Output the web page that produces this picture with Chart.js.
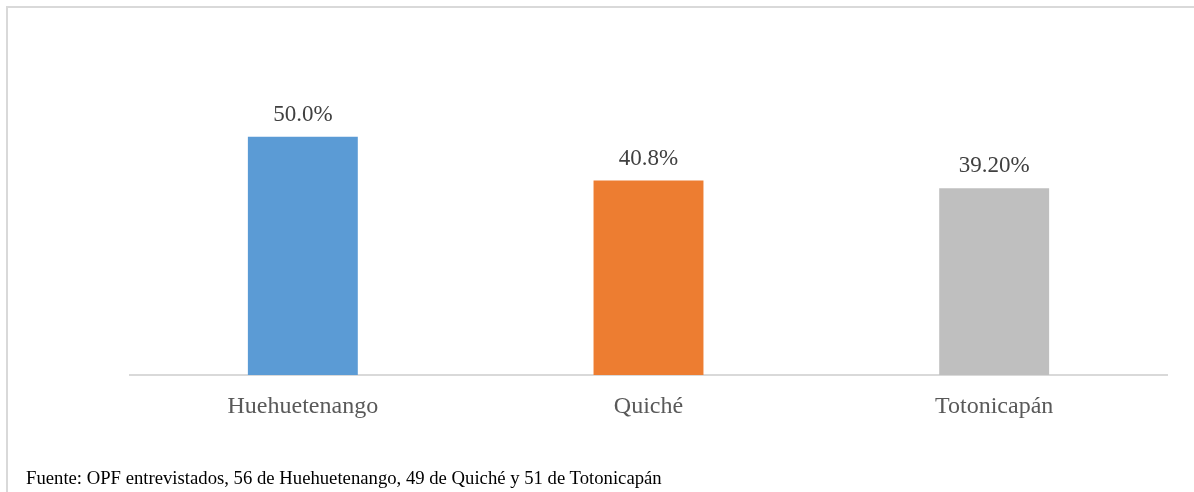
<!DOCTYPE html>
<html>
<head>
<meta charset="utf-8">
<script src="https://cdn.jsdelivr.net/npm/chart.js@4/dist/chart.umd.min.js"></script>
<style>
  html, body { margin: 0; padding: 0; background: #fff; }
  #wrap { position: relative; width: 1194px; height: 492px; overflow: hidden; }
  #frame { position: absolute; left: 6px; top: 6px; width: 1200px; height: 500px;
           border-top: 2px solid #d9d9d9; border-left: 2px solid #d9d9d9; box-sizing: border-box; }
  #chart { position: absolute; left: 0; top: 0; }
  #source { position: absolute; left: 26px; top: 467px; font-family: "Liberation Serif", "Times New Roman", serif;
            font-size: 18.7px; color: #000; white-space: nowrap; }
</style>
</head>
<body>
<div id="wrap">
  <div id="frame"></div>
  <canvas id="chart" width="1194" height="492"></canvas>
  <div id="source">Fuente: OPF entrevistados, 56 de Huehuetenango, 49 de Quiché y 51 de Totonicapán</div>
</div>
<script>
// Departments and share of interviewed OPF
const categories = ["Huehuetenango", "Quiché", "Totonicapán"];
const values = [50.0, 40.8, 39.2];
const valueLabels = ["50.0%", "40.8%", "39.20%"];
const barColors = ["#5B9BD5", "#ED7D31", "#BFBFBF"];

// Writes each bar's percentage above it
const valueLabelPlugin = {
  id: "valueLabels",
  afterDatasetsDraw(chart) {
    const ctx = chart.ctx;
    const meta = chart.getDatasetMeta(0);
    ctx.save();
    ctx.font = "23px 'Liberation Serif', 'Times New Roman', serif";
    ctx.fillStyle = "#404040";
    ctx.textAlign = "center";
    ctx.textBaseline = "middle";
    meta.data.forEach((bar, i) => {
      ctx.fillText(valueLabels[i], bar.x, bar.y - 22);
    });
    ctx.restore();
  }
};

new Chart(document.getElementById("chart"), {
  type: "bar",
  data: {
    labels: categories,
    datasets: [{
      data: values,
      backgroundColor: barColors,
      borderWidth: 0,
      categoryPercentage: 1.0,
      barPercentage: 0.318
    }]
  },
  options: {
    responsive: false,
    animation: false,
    layout: { padding: { left: 130, right: 27, top: 89, bottom: 0 } },
    plugins: { legend: { display: false }, tooltip: { enabled: false } },
    scales: {
      x: {
        grid: { display: false, drawTicks: false },
        border: { display: true, color: "#d9d9d9", width: 2 },
        ticks: {
          color: "#595959",
          padding: 17,
          font: { family: "'Liberation Serif', 'Times New Roman', serif", size: 24 }
        },
        afterFit(scale) { scale.height = 117; }
      },
      y: {
        display: false,
        min: 0,
        max: 60
      }
    }
  },
  plugins: [valueLabelPlugin]
});
</script>
</body>
</html>
